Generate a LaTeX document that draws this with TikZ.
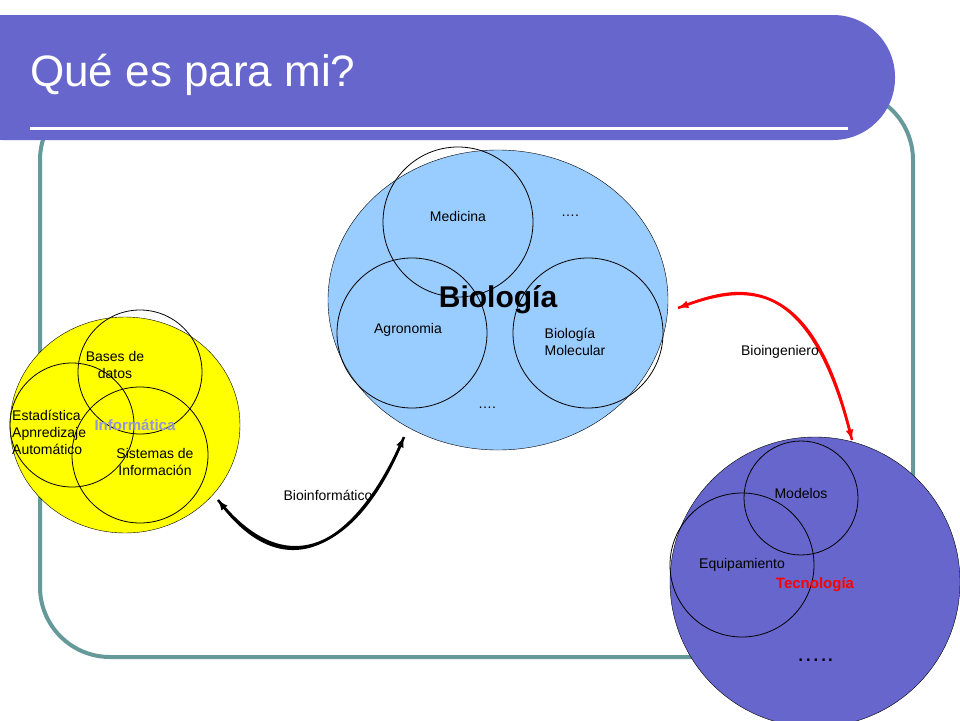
\documentclass[tikz,border=0pt]{standalone}
\usepackage{fontspec}
\usetikzlibrary{shapes.geometric}
\setmainfont{Liberation Sans}
\begin{document}
\begin{tikzpicture}[x=1pt,y=-1pt]
\definecolor{barc}{HTML}{6666CC}
\definecolor{framec}{HTML}{669999}
\definecolor{bioc}{HTML}{99CCFF}
\definecolor{infc}{HTML}{FFFF00}
\tikzset{lbl/.style={font=\fontsize{14}{17}\selectfont,align=center,inner sep=0pt},
 sub/.style={draw=black,line width=0.8pt}}
\useasboundingbox (0,0) rectangle (960,720);
\fill[white] (0,0) rectangle (960,720);
% frame
\draw[framec,line width=4pt,rounded corners=70pt] (40,90) rectangle (913,657);
% title bar
\fill[barc,rounded corners=62pt] (-60,15) rectangle (895,140);
\fill[barc] (0,15) rectangle (200,140);
\draw[white,line width=3pt] (30,128) -- (848,128);
\node[anchor=west,text=white,font=\fontsize{44}{50}\selectfont,inner sep=0pt] (title) at (30,75) {Qué es para mi?};
% biology
\node[draw,fill=bioc,ellipse,minimum width=340pt,minimum height=300pt,inner sep=0pt] (bio) at (498,300) {};
\draw[sub] (458,222) circle (75);
\draw[sub] (412,333) circle (75);
\draw[sub] (588,333) circle (75);
\node[font=\bfseries\fontsize{30}{34}\selectfont,inner sep=0pt] (biot) at (498,300) {Biología};
\node[lbl] (med) at (458,216) {Medicina};
\node[lbl] (d1) at (570,216) {….};
\node[lbl] (agr) at (408,330) {Agronomia};
\node[lbl,align=left] (bm) at (575,342) {Biología\\Molecular};
\node[lbl] (d2) at (487,408) {….};
% informatica
\node[draw,fill=infc,ellipse,minimum width=230pt,minimum height=216pt,inner sep=0pt] (inf) at (125,425) {};
\draw[sub] (140,372) circle (62);
\draw[sub] (72,425) circle (62);
\draw[sub] (140,455) circle (68);
\node[font=\bfseries\fontsize{15}{17}\selectfont,text=barc!70,inner sep=0pt] (inft) at (135,425) {Informática};
\node[lbl] (bd) at (115,365) {Bases de\\datos};
\node[lbl,align=left,anchor=west] (est) at (12,432) {Estadística\\Apnredizaje\\Automático};
\node[lbl] (si) at (155,462) {Sistemas de\\Información};
% tecnologia
\node[draw,fill=barc,circle,minimum size=290pt,inner sep=0pt] (tec) at (815,582) {};
\draw[sub] (801,498) circle (57);
\draw[sub] (742,565) circle (72);
\node[lbl] (mod) at (801,493) {Modelos};
\node[lbl] (eq) at (742,565) {Equipamiento};
\node[font=\bfseries\fontsize{15}{17}\selectfont,text=red,inner sep=0pt] (tect) at (815,585) {Tecnología};
\node[font=\fontsize{24}{28}\selectfont,inner sep=0pt] (d3) at (815,660) {…..};
% arrows
\coordinate (a1) at (218,500);
\coordinate (a2) at (404,437);
\draw[line width=2.5pt,-latex] (a1) .. controls (290,590) and (360,540) .. (a2);
\draw[line width=2.5pt,-latex] (a2) .. controls (360,540) and (290,590) .. (a1);
\node[lbl] (bi) at (328,495) {Bioinformático};
\coordinate (b1) at (678,308);
\coordinate (b2) at (852,440);
\draw[red,line width=2.5pt,-latex] (b1) .. controls (740,285) and (810,270) .. (b2);
\draw[red,line width=2.5pt,-latex] (b2) .. controls (810,270) and (740,285) .. (b1);
\node[lbl] (bg) at (780,352) {Bioingeniero};
\end{tikzpicture}
\end{document}
